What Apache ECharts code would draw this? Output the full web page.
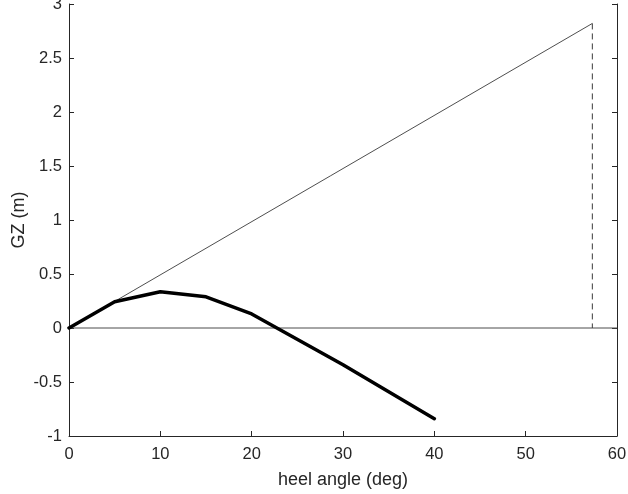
<!DOCTYPE html>
<html>
<head>
<meta charset="utf-8">
<script src="https://cdn.jsdelivr.net/npm/echarts@6/dist/echarts.min.js"></script>
<style>
  html, body { margin: 0; padding: 0; background: #fff; }
  #chart { width: 628px; height: 494px; }
</style>
</head>
<body>
<div id="chart"></div>
<script>
// Righting-arm (GZ) curve against heel angle
const heelAngles = [0, 5, 10, 15, 20, 30, 40];
const gzValues = [0, 0.243, 0.335, 0.289, 0.13, -0.34, -0.84];

// Initial-stability tangent: GM drawn at one radian (57.3 deg)
const radianDeg = 57.3;
const gmValue = 2.82;
const tangentAngles = [0, radianDeg];
const tangentValues = [0, gmValue];

// Vertical marker at one radian and the zero line
const markerAngles = [radianDeg, radianDeg];
const markerValues = [gmValue, 0];
const zeroAngles = [0, 60];
const zeroValues = [0, 0];

const xTicks = { min: 0, max: 60, step: 10 };
const yTicks = { min: -1, max: 3, step: 0.5 };

const pairs = (xs, ys) => xs.map((x, i) => [x, ys[i]]);

const font = '"Liberation Sans", Arial, Helvetica, sans-serif';
const ink = '#262626';

const chart = echarts.init(document.getElementById('chart'), null, { renderer: 'canvas' });
chart.setOption({
  animation: false,
  backgroundColor: '#ffffff',
  grid: {
    left: 69, right: 11, top: 4, bottom: 58,
    containLabel: false,
    outerBoundsMode: 'none'
  },
  xAxis: {
    type: 'value',
    min: xTicks.min, max: xTicks.max, interval: xTicks.step,
    name: 'heel angle (deg)',
    nameLocation: 'middle',
    nameGap: 35,
    nameMoveOverlap: false,
    nameTextStyle: { fontFamily: font, fontSize: 18, color: ink },
    axisLine: { show: true, onZero: false, lineStyle: { color: ink, width: 1 } },
    axisTick: { show: true, inside: true, length: 5, lineStyle: { color: ink } },
    axisLabel: { fontFamily: font, fontSize: 16.5, color: ink, margin: 10 },
    splitLine: { show: false }
  },
  yAxis: [{
    type: 'value',
    min: yTicks.min, max: yTicks.max, interval: yTicks.step,
    name: 'GZ (m)',
    nameLocation: 'middle',
    nameGap: 41,
    nameMoveOverlap: false,
    nameTextStyle: { fontFamily: font, fontSize: 18, color: ink },
    axisLine: { show: true, onZero: false, lineStyle: { color: ink, width: 1 } },
    axisTick: { show: true, inside: true, length: 5, lineStyle: { color: ink } },
    axisLabel: { fontFamily: font, fontSize: 16.5, color: ink, margin: 7 },
    splitLine: { show: false }
  }, {
    type: 'value',
    position: 'right',
    min: yTicks.min, max: yTicks.max, interval: yTicks.step,
    axisLine: { show: true, onZero: false, lineStyle: { color: ink, width: 1 } },
    axisTick: { show: true, inside: true, length: 5, lineStyle: { color: ink } },
    axisLabel: { show: false },
    splitLine: { show: false }
  }],
  series: [
    {
      type: 'line',
      data: pairs(zeroAngles, zeroValues),
      symbol: 'none',
      lineStyle: { color: '#4d4d4d', width: 1 },
      z: 1
    },
    {
      type: 'line',
      data: pairs(tangentAngles, tangentValues),
      symbol: 'none',
      lineStyle: { color: '#3a3a3a', width: 0.9 },
      z: 2
    },
    {
      type: 'line',
      data: pairs(markerAngles, markerValues),
      symbol: 'none',
      lineStyle: { color: '#3a3a3a', width: 1, type: [6, 4] },
      z: 2
    },
    {
      type: 'line',
      data: pairs(heelAngles, gzValues),
      symbol: 'none',
      lineStyle: { color: '#000000', width: 3.5, join: 'round', cap: 'round' },
      z: 3
    }
  ]
});
</script>
</body>
</html>
